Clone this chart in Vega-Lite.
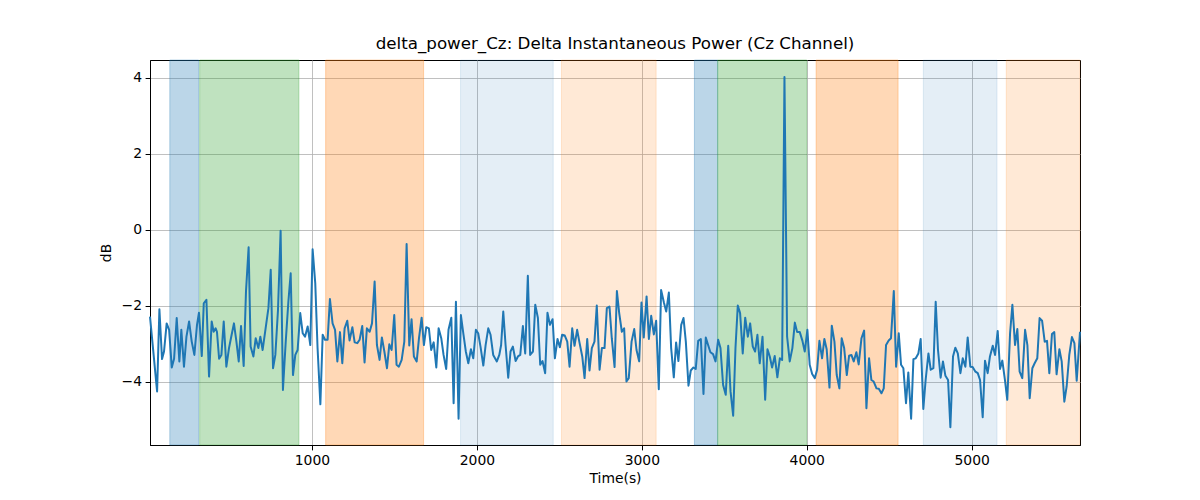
{
  "$schema": "https://vega.github.io/schema/vega-lite/v6.json",
  "width": 930,
  "height": 385,
  "autosize": {"type": "none"},
  "padding": {"left": 150, "top": 60, "right": 120, "bottom": 55},
  "background": "white",
  "config": {
    "font": "DejaVu Sans",
    "view": {"stroke": "black", "strokeWidth": 1},
    "axis": {
      "domainColor": "black",
      "domainWidth": 1,
      "tickColor": "black",
      "tickSize": 4.9,
      "labelPadding": 3.5,
      "labelColor": "black",
      "titleColor": "black",
      "labelFont": "DejaVu Sans",
      "titleFont": "DejaVu Sans",
      "labelFontSize": 13.9,
      "titleFontSize": 13.9,
      "titleFontWeight": "normal",
      "gridColor": "#b0b0b0",
      "gridWidth": 0.8
    }
  },
  "title": {
    "text": "delta_power_Cz: Delta Instantaneous Power (Cz Channel)",
    "font": "DejaVu Sans",
    "fontSize": 16.7,
    "fontWeight": "normal",
    "color": "black",
    "anchor": "middle",
    "offset": 7
  },
  "datasets": {
    "spans": [
      {"start": 138, "end": 313, "kind": "A"},
      {"start": 319, "end": 921, "kind": "B"},
      {"start": 1083, "end": 1677, "kind": "C"},
      {"start": 1901, "end": 2463, "kind": "D"},
      {"start": 2513, "end": 3087, "kind": "E"},
      {"start": 3319, "end": 3460, "kind": "A"},
      {"start": 3460, "end": 4000, "kind": "B"},
      {"start": 4057, "end": 4554, "kind": "C"},
      {"start": 4707, "end": 5154, "kind": "D"},
      {"start": 5210, "end": 5657, "kind": "E"}
    ],
    "power": [
      {"time": 18, "dB": -2.28}, {"time": 61, "dB": -4.25}, {"time": 75, "dB": -2.09}, {"time": 91, "dB": -3.40},
      {"time": 103, "dB": -3.20}, {"time": 119, "dB": -2.46}, {"time": 134, "dB": -2.63}, {"time": 150, "dB": -3.62},
      {"time": 164, "dB": -3.39}, {"time": 180, "dB": -2.32}, {"time": 196, "dB": -3.46}, {"time": 208, "dB": -2.63},
      {"time": 224, "dB": -3.60}, {"time": 239, "dB": -2.81}, {"time": 255, "dB": -2.41}, {"time": 271, "dB": -2.94},
      {"time": 287, "dB": -3.29}, {"time": 303, "dB": -2.50}, {"time": 315, "dB": -2.18}, {"time": 332, "dB": -3.32},
      {"time": 344, "dB": -1.93}, {"time": 360, "dB": -1.84}, {"time": 376, "dB": -3.86}, {"time": 392, "dB": -2.41},
      {"time": 404, "dB": -2.68}, {"time": 416, "dB": -2.59}, {"time": 424, "dB": -2.68}, {"time": 437, "dB": -3.39},
      {"time": 451, "dB": -3.29}, {"time": 465, "dB": -2.41}, {"time": 481, "dB": -3.60}, {"time": 497, "dB": -3.11},
      {"time": 513, "dB": -2.76}, {"time": 527, "dB": -2.46}, {"time": 542, "dB": -2.94}, {"time": 556, "dB": -3.46},
      {"time": 570, "dB": -2.53}, {"time": 586, "dB": -3.58}, {"time": 600, "dB": -1.62}, {"time": 616, "dB": -0.46},
      {"time": 628, "dB": -3.07}, {"time": 645, "dB": -3.33}, {"time": 659, "dB": -2.85}, {"time": 675, "dB": -3.11},
      {"time": 687, "dB": -2.81}, {"time": 701, "dB": -3.16}, {"time": 719, "dB": -2.59}, {"time": 736, "dB": -2.06},
      {"time": 750, "dB": -1.05}, {"time": 764, "dB": -3.64}, {"time": 778, "dB": -3.29}, {"time": 794, "dB": -2.11},
      {"time": 810, "dB": -0.02}, {"time": 824, "dB": -4.21}, {"time": 841, "dB": -2.94}, {"time": 857, "dB": -1.89},
      {"time": 871, "dB": -1.14}, {"time": 885, "dB": -3.82}, {"time": 899, "dB": -3.29}, {"time": 913, "dB": -3.16},
      {"time": 929, "dB": -2.19}, {"time": 944, "dB": -2.72}, {"time": 958, "dB": -2.81}, {"time": 974, "dB": -2.54},
      {"time": 990, "dB": -3.03}, {"time": 1004, "dB": -0.51}, {"time": 1020, "dB": -1.40}, {"time": 1034, "dB": -3.11},
      {"time": 1051, "dB": -4.59}, {"time": 1065, "dB": -2.76}, {"time": 1079, "dB": -2.89}, {"time": 1095, "dB": -2.89},
      {"time": 1109, "dB": -1.82}, {"time": 1125, "dB": -2.46}, {"time": 1140, "dB": -2.63}, {"time": 1154, "dB": -3.46},
      {"time": 1170, "dB": -2.69}, {"time": 1184, "dB": -3.51}, {"time": 1198, "dB": -2.59}, {"time": 1214, "dB": -2.39},
      {"time": 1228, "dB": -2.91}, {"time": 1245, "dB": -2.56}, {"time": 1259, "dB": -2.96}, {"time": 1275, "dB": -2.98},
      {"time": 1289, "dB": -2.89}, {"time": 1305, "dB": -2.53}, {"time": 1319, "dB": -3.49}, {"time": 1333, "dB": -2.59},
      {"time": 1350, "dB": -2.68}, {"time": 1364, "dB": -2.46}, {"time": 1380, "dB": -1.36}, {"time": 1394, "dB": -3.03},
      {"time": 1410, "dB": -3.42}, {"time": 1424, "dB": -2.83}, {"time": 1439, "dB": -3.20}, {"time": 1455, "dB": -3.64},
      {"time": 1469, "dB": -3.01}, {"time": 1483, "dB": -3.16}, {"time": 1499, "dB": -2.24}, {"time": 1513, "dB": -3.55},
      {"time": 1527, "dB": -3.60}, {"time": 1544, "dB": -3.42}, {"time": 1560, "dB": -2.94}, {"time": 1574, "dB": -0.37},
      {"time": 1590, "dB": -3.04}, {"time": 1604, "dB": -2.35}, {"time": 1618, "dB": -3.33}, {"time": 1635, "dB": -3.46},
      {"time": 1649, "dB": -2.85}, {"time": 1665, "dB": -2.31}, {"time": 1679, "dB": -3.03}, {"time": 1693, "dB": -2.56},
      {"time": 1709, "dB": -2.59}, {"time": 1723, "dB": -3.16}, {"time": 1738, "dB": -2.96}, {"time": 1754, "dB": -3.62},
      {"time": 1768, "dB": -2.59}, {"time": 1784, "dB": -2.85}, {"time": 1798, "dB": -3.29}, {"time": 1814, "dB": -3.66},
      {"time": 1828, "dB": -2.63}, {"time": 1845, "dB": -2.31}, {"time": 1859, "dB": -4.56}, {"time": 1873, "dB": -1.89},
      {"time": 1889, "dB": -4.97}, {"time": 1903, "dB": -2.24}, {"time": 1919, "dB": -2.76}, {"time": 1933, "dB": -3.20},
      {"time": 1948, "dB": -3.51}, {"time": 1964, "dB": -3.14}, {"time": 1978, "dB": -3.38}, {"time": 1994, "dB": -2.63},
      {"time": 2008, "dB": -2.72}, {"time": 2022, "dB": -3.07}, {"time": 2039, "dB": -3.57}, {"time": 2053, "dB": -3.03},
      {"time": 2069, "dB": -2.59}, {"time": 2083, "dB": -2.76}, {"time": 2099, "dB": -3.29}, {"time": 2121, "dB": -3.46},
      {"time": 2136, "dB": -3.29}, {"time": 2147, "dB": -3.03}, {"time": 2160, "dB": -2.15}, {"time": 2174, "dB": -3.03},
      {"time": 2190, "dB": -3.89}, {"time": 2204, "dB": -3.20}, {"time": 2218, "dB": -3.07}, {"time": 2235, "dB": -3.45},
      {"time": 2249, "dB": -3.33}, {"time": 2263, "dB": -3.29}, {"time": 2279, "dB": -2.53}, {"time": 2293, "dB": -3.25},
      {"time": 2309, "dB": -1.21}, {"time": 2323, "dB": -3.29}, {"time": 2340, "dB": -3.20}, {"time": 2354, "dB": -1.97},
      {"time": 2370, "dB": -2.32}, {"time": 2384, "dB": -3.55}, {"time": 2398, "dB": -3.45}, {"time": 2414, "dB": -3.77},
      {"time": 2428, "dB": -2.18}, {"time": 2443, "dB": -2.50}, {"time": 2459, "dB": -2.35}, {"time": 2473, "dB": -3.38},
      {"time": 2489, "dB": -2.87}, {"time": 2503, "dB": -3.09}, {"time": 2517, "dB": -2.76}, {"time": 2533, "dB": -2.78},
      {"time": 2548, "dB": -2.94}, {"time": 2562, "dB": -3.60}, {"time": 2578, "dB": -2.59}, {"time": 2592, "dB": -3.05},
      {"time": 2608, "dB": -2.63}, {"time": 2622, "dB": -2.96}, {"time": 2639, "dB": -3.33}, {"time": 2653, "dB": -3.90},
      {"time": 2669, "dB": -2.87}, {"time": 2683, "dB": -3.70}, {"time": 2697, "dB": -3.11}, {"time": 2713, "dB": -2.94},
      {"time": 2727, "dB": -1.99}, {"time": 2744, "dB": -3.68}, {"time": 2758, "dB": -3.11}, {"time": 2774, "dB": -3.11},
      {"time": 2788, "dB": -2.06}, {"time": 2804, "dB": -2.02}, {"time": 2818, "dB": -2.85}, {"time": 2835, "dB": -3.61},
      {"time": 2849, "dB": -1.61}, {"time": 2863, "dB": -2.19}, {"time": 2879, "dB": -2.68}, {"time": 2893, "dB": -2.59},
      {"time": 2907, "dB": -3.99}, {"time": 2921, "dB": -3.90}, {"time": 2938, "dB": -2.94}, {"time": 2954, "dB": -2.61},
      {"time": 2968, "dB": -3.16}, {"time": 2984, "dB": -3.46}, {"time": 2998, "dB": -1.91}, {"time": 3012, "dB": -2.83},
      {"time": 3029, "dB": -1.75}, {"time": 3043, "dB": -2.87}, {"time": 3057, "dB": -2.26}, {"time": 3073, "dB": -2.75},
      {"time": 3087, "dB": -2.39}, {"time": 3103, "dB": -4.19}, {"time": 3117, "dB": -1.58}, {"time": 3134, "dB": -1.91},
      {"time": 3148, "dB": -2.15}, {"time": 3164, "dB": -1.65}, {"time": 3178, "dB": -3.11}, {"time": 3194, "dB": -3.88},
      {"time": 3208, "dB": -2.96}, {"time": 3222, "dB": -3.45}, {"time": 3239, "dB": -2.50}, {"time": 3253, "dB": -2.32},
      {"time": 3267, "dB": -2.94}, {"time": 3283, "dB": -4.10}, {"time": 3297, "dB": -3.70}, {"time": 3313, "dB": -3.62},
      {"time": 3327, "dB": -3.66}, {"time": 3342, "dB": -2.92}, {"time": 3358, "dB": -2.87}, {"time": 3374, "dB": -4.32},
      {"time": 3388, "dB": -2.83}, {"time": 3402, "dB": -3.03}, {"time": 3416, "dB": -3.22}, {"time": 3432, "dB": -3.27},
      {"time": 3447, "dB": -3.46}, {"time": 3463, "dB": -2.89}, {"time": 3477, "dB": -3.11}, {"time": 3493, "dB": -4.08},
      {"time": 3509, "dB": -4.34}, {"time": 3524, "dB": -3.05}, {"time": 3538, "dB": -4.25}, {"time": 3554, "dB": -4.89},
      {"time": 3568, "dB": -3.11}, {"time": 3582, "dB": -1.99}, {"time": 3596, "dB": -2.19}, {"time": 3612, "dB": -3.25},
      {"time": 3627, "dB": -2.31}, {"time": 3643, "dB": -2.81}, {"time": 3657, "dB": -2.46}, {"time": 3673, "dB": -3.07},
      {"time": 3687, "dB": -3.20}, {"time": 3701, "dB": -2.76}, {"time": 3715, "dB": -3.51}, {"time": 3732, "dB": -2.81},
      {"time": 3748, "dB": -4.47}, {"time": 3762, "dB": -3.14}, {"time": 3776, "dB": -3.33}, {"time": 3790, "dB": -3.62},
      {"time": 3806, "dB": -3.32}, {"time": 3822, "dB": -3.88}, {"time": 3837, "dB": -3.38}, {"time": 3851, "dB": -3.42},
      {"time": 3865, "dB": 4.02}, {"time": 3881, "dB": -2.81}, {"time": 3897, "dB": -3.46}, {"time": 3913, "dB": -3.11},
      {"time": 3928, "dB": -2.44}, {"time": 3942, "dB": -2.69}, {"time": 3958, "dB": -2.69}, {"time": 3974, "dB": -2.92},
      {"time": 3988, "dB": -3.20}, {"time": 4004, "dB": -2.63}, {"time": 4018, "dB": -3.55}, {"time": 4033, "dB": -3.79},
      {"time": 4049, "dB": -3.90}, {"time": 4063, "dB": -3.68}, {"time": 4077, "dB": -2.92}, {"time": 4093, "dB": -3.38},
      {"time": 4107, "dB": -2.87}, {"time": 4121, "dB": -3.14}, {"time": 4138, "dB": -4.15}, {"time": 4152, "dB": -2.52},
      {"time": 4168, "dB": -2.94}, {"time": 4182, "dB": -3.82}, {"time": 4198, "dB": -4.17}, {"time": 4212, "dB": -2.85},
      {"time": 4227, "dB": -3.11}, {"time": 4243, "dB": -3.82}, {"time": 4257, "dB": -3.31}, {"time": 4271, "dB": -3.29},
      {"time": 4285, "dB": -3.46}, {"time": 4301, "dB": -3.22}, {"time": 4315, "dB": -3.54}, {"time": 4332, "dB": -2.85},
      {"time": 4348, "dB": -2.65}, {"time": 4362, "dB": -4.69}, {"time": 4378, "dB": -3.38}, {"time": 4392, "dB": -3.95},
      {"time": 4406, "dB": -3.99}, {"time": 4423, "dB": -4.17}, {"time": 4437, "dB": -4.18}, {"time": 4453, "dB": -4.30},
      {"time": 4467, "dB": -4.17}, {"time": 4481, "dB": -3.03}, {"time": 4497, "dB": -2.91}, {"time": 4511, "dB": -2.85},
      {"time": 4528, "dB": -1.61}, {"time": 4542, "dB": -3.60}, {"time": 4558, "dB": -2.72}, {"time": 4572, "dB": -3.55},
      {"time": 4586, "dB": -3.64}, {"time": 4602, "dB": -4.56}, {"time": 4616, "dB": -3.75}, {"time": 4633, "dB": -4.97},
      {"time": 4647, "dB": -3.40}, {"time": 4661, "dB": -3.38}, {"time": 4677, "dB": -3.25}, {"time": 4691, "dB": -2.87},
      {"time": 4707, "dB": -4.71}, {"time": 4721, "dB": -3.95}, {"time": 4738, "dB": -3.25}, {"time": 4752, "dB": -3.68},
      {"time": 4768, "dB": -3.64}, {"time": 4782, "dB": -1.89}, {"time": 4796, "dB": -3.16}, {"time": 4812, "dB": -3.89},
      {"time": 4826, "dB": -3.46}, {"time": 4841, "dB": -3.84}, {"time": 4857, "dB": -3.95}, {"time": 4871, "dB": -5.19},
      {"time": 4887, "dB": -3.33}, {"time": 4901, "dB": -3.10}, {"time": 4916, "dB": -3.25}, {"time": 4932, "dB": -3.77},
      {"time": 4946, "dB": -3.38}, {"time": 4962, "dB": -3.60}, {"time": 4976, "dB": -2.83}, {"time": 4992, "dB": -3.60},
      {"time": 5006, "dB": -3.61}, {"time": 5023, "dB": -3.73}, {"time": 5037, "dB": -3.77}, {"time": 5051, "dB": -3.95},
      {"time": 5067, "dB": -4.93}, {"time": 5081, "dB": -3.44}, {"time": 5097, "dB": -3.77}, {"time": 5111, "dB": -3.33},
      {"time": 5128, "dB": -3.05}, {"time": 5142, "dB": -3.29}, {"time": 5158, "dB": -2.66}, {"time": 5172, "dB": -3.66},
      {"time": 5186, "dB": -3.44}, {"time": 5202, "dB": -3.95}, {"time": 5216, "dB": -4.47}, {"time": 5233, "dB": -2.72},
      {"time": 5247, "dB": -1.97}, {"time": 5263, "dB": -3.03}, {"time": 5277, "dB": -2.61}, {"time": 5291, "dB": -3.73},
      {"time": 5307, "dB": -3.90}, {"time": 5324, "dB": -2.63}, {"time": 5338, "dB": -3.03}, {"time": 5352, "dB": -4.43},
      {"time": 5368, "dB": -3.64}, {"time": 5382, "dB": -3.51}, {"time": 5398, "dB": -3.38}, {"time": 5412, "dB": -2.32},
      {"time": 5427, "dB": -2.39}, {"time": 5443, "dB": -2.94}, {"time": 5457, "dB": -2.92}, {"time": 5471, "dB": -3.77},
      {"time": 5487, "dB": -2.74}, {"time": 5501, "dB": -2.69}, {"time": 5515, "dB": -3.80}, {"time": 5532, "dB": -3.14},
      {"time": 5546, "dB": -3.46}, {"time": 5562, "dB": -4.52}, {"time": 5576, "dB": -4.12}, {"time": 5592, "dB": -3.29},
      {"time": 5608, "dB": -2.82}, {"time": 5623, "dB": -2.98}, {"time": 5637, "dB": -3.97}, {"time": 5657, "dB": -2.68}
    ]
  },
  "layer": [
    {
      "data": {"name": "spans"},
      "mark": {"type": "rect", "strokeWidth": 1},
      "encoding": {
        "x": {
          "field": "start",
          "type": "quantitative",
          "scale": {"domain": [18, 5657], "nice": false, "zero": false},
          "axis": {"title": "Time(s)", "values": [1000, 2000, 3000, 4000, 5000], "format": "d", "titlePadding": 4}
        },
        "x2": {"field": "end"},
        "fill": {
          "field": "kind",
          "type": "nominal",
          "scale": {"domain": ["A", "B", "C", "D", "E"], "range": ["rgba(31,119,180,0.3)", "rgba(44,160,44,0.3)", "rgba(255,127,14,0.3)", "rgba(31,119,180,0.12)", "rgba(255,127,14,0.17)"]},
          "legend": null
        },
        "stroke": {
          "field": "kind",
          "type": "nominal",
          "scale": {"domain": ["A", "B", "C", "D", "E"], "range": ["rgba(31,119,180,0.3)", "rgba(44,160,44,0.3)", "rgba(255,127,14,0.3)", "rgba(31,119,180,0.12)", "rgba(255,127,14,0.17)"]},
          "legend": null
        }
      }
    },
    {
      "data": {"name": "power"},
      "mark": {"type": "line", "color": "#1f77b4", "strokeWidth": 2, "strokeJoin": "round"},
      "encoding": {
        "x": {"field": "time", "type": "quantitative"},
        "y": {
          "field": "dB",
          "type": "quantitative",
          "scale": {"domain": [-5.66, 4.47], "nice": false, "zero": false},
          "axis": {"title": "dB", "values": [-4, -2, 0, 2, 4], "titlePadding": 8}
        }
      }
    }
  ]
}
